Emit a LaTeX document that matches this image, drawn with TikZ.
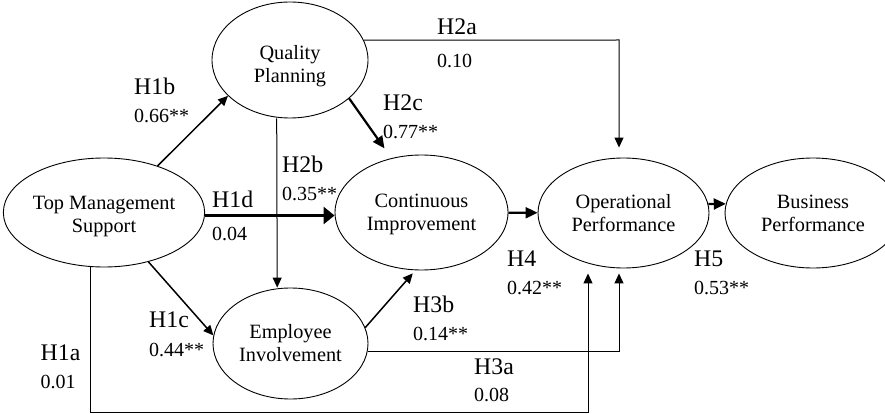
\documentclass[tikz,border=0pt]{standalone}
\usepackage{fontspec}
\setmainfont{Liberation Serif}
\usetikzlibrary{shapes.geometric,arrows.meta}
\begin{document}
\begin{tikzpicture}[x=1pt,y=-1pt,
  latent/.style={draw,ellipse,inner sep=0pt,line width=0.9pt,align=center,
    font=\fontsize{20.3}{23}\selectfont},
  hlab/.style={anchor=base west,inner sep=0pt,font=\fontsize{23.8}{28}\selectfont},
  vlab/.style={anchor=base west,inner sep=0pt,font=\fontsize{20}{24}\selectfont},
  thinpath/.style={line width=1pt,-{Triangle[length=10pt,width=9pt]}},
  midarrow/.style={line width=1.5pt,-{Triangle[length=10pt,width=9pt]}},
  boldarrow/.style={line width=2.2pt,-{Triangle[length=12pt,width=11pt]}},
  heavyarrow/.style={line width=3.5pt,-{Triangle[length=11pt,width=17pt]}}]
\useasboundingbox (0,0) rectangle (885,414);

% constructs
\node[latent,minimum width=190pt,minimum height=109pt] (tms) at (104,212.5) {\rule{0pt}{20.5pt}Top Management\\Support};
\node[latent,minimum width=156pt,minimum height=116pt] (qp) at (290,60) {\rule{0pt}{25.5pt}Quality\\Planning};
\node[latent,minimum width=173pt,minimum height=115pt] (ci) at (421.5,212.5) {\rule{0pt}{18pt}Continuous\\Improvement};
\node[latent,minimum width=171pt,minimum height=110pt] (op) at (623.5,213) {Operational\\Performance};
\node[latent,minimum width=176pt,minimum height=110pt] (bp) at (813,213) {Business\\Performance};
\node[latent,minimum width=155pt,minimum height=111pt] (ei) at (290.5,343.5) {Employee\\Involvement};

% turning points of the elbow connectors
\coordinate (h1aturn) at (588,412.5);
\coordinate (h3aturn) at (619,351.5);
\coordinate (h2aturn) at (619,40);

% connectors
\draw[midarrow] (tms.41.5) -- (qp.210.4);
\draw[heavyarrow] ([yshift=-3pt]tms.east) -- ([yshift=-3pt]ci.west);
\draw[thinpath] ([xshift=-13.3pt]qp.south) -- ([xshift=-13.3pt]ei.north);
\draw[boldarrow,shorten >=12pt] (qp.-33) -- (ci.119.7);
\draw[midarrow] (tms.-48.7) -- (ei.174);
\draw[midarrow,shorten >=4pt] (ei.12.9) -- (ci.-96);
\draw[thinpath,shorten >=5pt] ([xshift=-14pt]tms.south) |- (h1aturn) -- (h1aturn |- op.south);
\draw[thinpath,shorten >=5pt] ([yshift=-8pt]ei.east) -- (h3aturn) -- (h3aturn |- op.south);
\draw[thinpath,shorten >=10pt] (qp.15.3) -- (h2aturn) -- (h2aturn |- op.north);
\draw[boldarrow] (ci) -- (op);
\draw[boldarrow] (op.6) -- (bp.174);

% labels
\node[hlab] (lh1b) at (134,95) {H1b};
\node[vlab] (vh1b) at (134,123) {0.66**};
\node[hlab] (lh2c) at (383,110.5) {H2c};
\node[vlab] (vh2c) at (383,139) {0.77**};
\node[hlab] (lh2b) at (282,172.5) {H2b};
\node[vlab] (vh2b) at (282,200) {0.35**};
\node[hlab] (lh1d) at (212,207) {H1d};
\node[vlab] (vh1d) at (212,240.5) {0.04};
\node[hlab] (lh1c) at (149,327) {H1c};
\node[vlab] (vh1c) at (149,356.5) {0.44**};
\node[hlab] (lh1a) at (40.5,360) {H1a};
\node[vlab] (vh1a) at (40.5,388) {0.01};
\node[hlab] (lh3b) at (413,312) {H3b};
\node[vlab] (vh3b) at (413,340.5) {0.14**};
\node[hlab] (lh2a) at (437,35) {H2a};
\node[vlab] (vh2a) at (437,68) {0.10};
\node[hlab] (lh4) at (507,266) {H4};
\node[vlab] (vh4) at (507,294) {0.42**};
\node[hlab] (lh5) at (694,266) {H5};
\node[vlab] (vh5) at (694,294) {0.53**};
\node[hlab] (lh3a) at (474,374) {H3a};
\node[vlab] (vh3a) at (474,401.5) {0.08};
\end{tikzpicture}
\end{document}
